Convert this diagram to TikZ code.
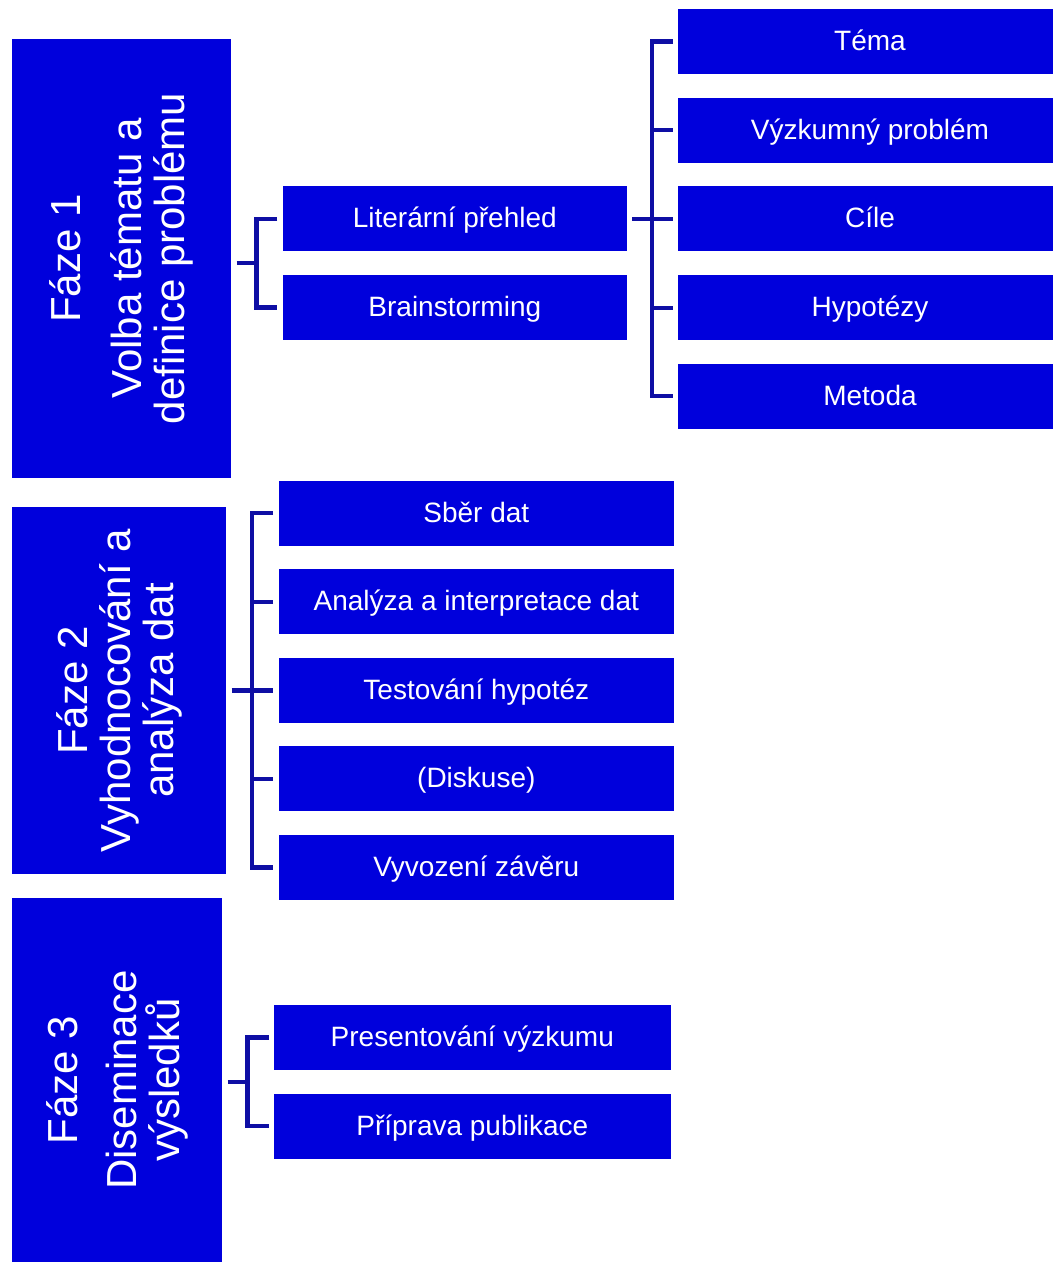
\documentclass[tikz,border=0pt]{standalone}
\usepackage{fontspec}
\setmainfont{Liberation Sans}
\usetikzlibrary{calc}
\definecolor{boxblue}{RGB}{0,0,220}
\definecolor{linkblue}{RGB}{14,14,164}
\begin{document}
\begin{tikzpicture}[x=1pt,y=-1pt,
  phase/.style={fill=boxblue, inner sep=0pt, outer sep=0pt},
  phtext/.style={rotate=90, text=white, align=center, inner sep=0pt, font=\fontsize{42}{43}\selectfont},
  sub/.style={fill=boxblue, text=white, inner sep=0pt, outer sep=0pt, minimum height=65pt,
              text height=21pt, text depth=3pt, font=\fontsize{28}{30}\selectfont},
  br/.style={draw=linkblue, line width=4.2pt}]
\useasboundingbox (0,0) rectangle (1053,1262);
\clip (0,0) rectangle (1053,1262);

% Phase boxes
\node[phase, minimum width=219pt, minimum height=439pt] (p1) at (121.5,258.5) {};
\node[phtext] (p1t) at (p1.center) {Fáze 1\\[18pt]Volba tématu a\\definice problému};
\node[phase, minimum width=214pt, minimum height=367pt] (p2) at (119,690.5) {};
\node[phtext] (p2t) at (p2.center) {Fáze 2\\Vyhodnocování a\\analýza dat};
\node[phase, minimum width=210pt, minimum height=364pt] (p3) at (117,1080) {};
\node[phtext] (p3t) at (p3.center) {Fáze 3\\[16pt]Diseminace\\výsledků};

% Phase 1 children
\node[sub, minimum width=343.7pt] (lit) at (454.8,218.9) {Literární přehled};
\node[sub, minimum width=343.7pt] (brain) at (454.8,307.5) {Brainstorming};
\node[sub, minimum width=383.4pt] (tema) at (870,41.5) {Téma};
\node[sub, minimum width=383.4pt] (vyzk) at (870,130.2) {Výzkumný problém};
\node[sub, minimum width=383.4pt] (cile) at (870,218.9) {Cíle};
\node[sub, minimum width=383.4pt] (hyp) at (870,307.6) {Hypotézy};
\node[sub, minimum width=383.4pt] (metoda) at (870,396.3) {Metoda};

% Phase 2 children
\node[sub, minimum width=395.4pt] (sber) at (476.3,513.3) {Sběr dat};
\node[sub, minimum width=395.4pt] (anal) at (476.3,601.8) {Analýza a interpretace dat};
\node[sub, minimum width=395.4pt] (test) at (476.3,690.4) {Testování hypotéz};
\node[sub, minimum width=395.4pt] (disk) at (476.3,778.9) {(Diskuse)};
\node[sub, minimum width=395.4pt] (vyvoz) at (476.3,867.5) {Vyvození závěru};

% Phase 3 children
\node[sub, minimum width=396.5pt] (pres) at (472.3,1037.5) {Presentování výzkumu};
\node[sub, minimum width=396.5pt] (prip) at (472.3,1126) {Příprava publikace};

% Bracket: phase 1 -> literature / brainstorming
\coordinate (m1) at ($(lit.west)!0.5!(brain.west)$);
\draw[br] ($(lit.west)+(-5.5,0)$) -- ++(-21,0) |- ($(brain.west)+(-5.5,0)$);
\draw[br] ($(p1.east |- m1)+(5.5,0)$) -- ($(m1)+(-26.5,0)$);

% Bracket: literature -> topic items
\draw[br] ($(tema.west)+(-5.5,0)$) -- ++(-21,0) |- ($(metoda.west)+(-5.5,0)$);
\draw[br] ($(vyzk.west)+(-5.5,0)$) -- ++(-21,0);
\draw[br] ($(hyp.west)+(-5.5,0)$) -- ++(-21,0);
\draw[br] ($(lit.east)+(5.5,0)$) -- ($(cile.west)+(-5.5,0)$);

% Bracket: phase 2
\draw[br] ($(sber.west)+(-5.5,0)$) -- ++(-21,0) |- ($(vyvoz.west)+(-5.5,0)$);
\draw[br] ($(anal.west)+(-5.5,0)$) -- ++(-21,0);
\draw[br] ($(disk.west)+(-5.5,0)$) -- ++(-21,0);
\draw[br] ($(p2.east |- test.west)+(5.5,0)$) -- ($(test.west)+(-5.5,0)$);

% Bracket: phase 3
\coordinate (m3) at ($(pres.west)!0.5!(prip.west)$);
\draw[br] ($(pres.west)+(-5.5,0)$) -- ++(-21,0) |- ($(prip.west)+(-5.5,0)$);
\draw[br] ($(p3.east |- m3)+(5.5,0)$) -- ($(m3)+(-26.5,0)$);
\end{tikzpicture}
\end{document}
